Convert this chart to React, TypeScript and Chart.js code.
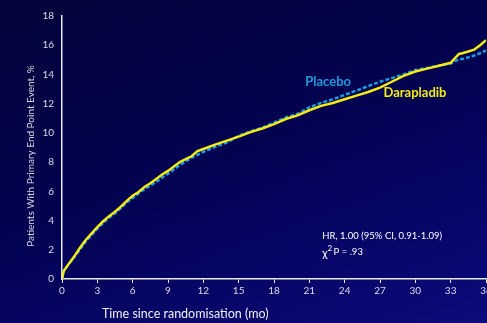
import React, { useEffect, useRef } from "react";
import { Chart, registerables } from "chart.js";

Chart.register(...registerables);

// Months since randomisation (shared x values)
const months = [
  0, 0.15, 0.5, 1, 1.5, 2, 2.5, 3, 3.5, 4, 4.5, 5, 5.5, 6, 6.5, 7, 7.5, 8, 8.5, 9, 9.5, 10, 10.5, 11, 11.5, 12,
  13, 14, 15, 16, 17, 18, 19, 20, 21, 22, 23, 24, 25, 26, 27, 28, 29, 30, 31, 32, 33, 33.7, 34, 35, 35.5, 36,
];

// Cumulative event rate (%)
const darapladib = [
  0, 0.55, 0.95, 1.5, 2.1, 2.65, 3.1, 3.55, 3.95, 4.3, 4.6, 4.95, 5.35, 5.7, 5.95, 6.3, 6.55, 6.85, 7.15, 7.4, 7.7, 8.0, 8.2, 8.4, 8.75, 8.9,
  9.2, 9.47, 9.74, 10.05, 10.3, 10.6, 10.95, 11.2, 11.55, 11.85, 12.05, 12.3, 12.55, 12.8, 13.1, 13.5, 13.9, 14.2, 14.4, 14.6, 14.8, 15.4, 15.45, 15.7, 16.0, 16.35,
];

const placebo = [
  0, 0.6, 0.95, 1.45, 2.0, 2.55, 3.0, 3.45, 3.85, 4.2, 4.5, 4.85, 5.25, 5.55, 5.85, 6.15, 6.4, 6.65, 6.95, 7.2, 7.5, 7.8, 8.05, 8.3, 8.5, 8.7,
  9.05, 9.35, 9.8, 10.1, 10.35, 10.7, 11.05, 11.3, 11.75, 12.05, 12.3, 12.6, 12.9, 13.2, 13.5, 13.75, 14.0, 14.3, 14.45, 14.6, 14.75, 15.05, 15.05, 15.3, 15.45, 15.65,
];

const seriesNames = ["Darapladib", "Placebo"];
const xTicks = { min: 0, max: 36, step: 3 };
const yTicks = { min: 0, max: 18, step: 2 };

const xTitle = "Time since randomisation (mo)";
const yTitle = "Patients With Primary End Point Event, %";
const hrText = "HR, 1.00 (95% CI, 0.91-1.09)";
const pText = "P = .93";

const YELLOW = "#f5ea14";
const BLUE = "#1b9be0";
const AXIS = "#e8e8f0";
const FONT = "Lato, 'Open Sans', sans-serif";

const textPlugin = {
  id: "texts",
  afterDraw(chart: any) {
    const { ctx, scales } = chart;
    const x = scales.x;
    const y = scales.y;
    ctx.save();
    // y axis title
    ctx.fillStyle = "#d8d8e4";
    ctx.font = `10px ${FONT}`;
    ctx.textAlign = "center";
    ctx.textBaseline = "middle";
    ctx.save();
    ctx.translate(31, 156);
    ctx.rotate(-Math.PI / 2);
    ctx.fillText(yTitle, 0, 0);
    ctx.restore();
    // x axis title
    ctx.fillStyle = "#f0f0f6";
    ctx.font = `12.5px ${FONT}`;
    ctx.textAlign = "left";
    ctx.fillText(xTitle, 102, 314);

    // series labels
    ctx.font = `bold 13px ${FONT}`;
    ctx.fillStyle = BLUE;
    ctx.fillText(seriesNames[1], x.getPixelForValue(20.65), y.getPixelForValue(13.5));
    ctx.fillStyle = YELLOW;
    ctx.fillText(seriesNames[0], x.getPixelForValue(27.3), y.getPixelForValue(12.75));

    // stats annotation
    ctx.fillStyle = "#ffffff";
    ctx.font = `9.5px ${FONT}`;
    const ax = x.getPixelForValue(22.1);
    ctx.fillText(hrText, ax, y.getPixelForValue(2.95));
    const py = y.getPixelForValue(1.85);
    ctx.font = `11px ${FONT}`;
    ctx.fillText("χ", ax, py + 1);
    const cw = ctx.measureText("χ").width;
    ctx.font = `8px ${FONT}`;
    ctx.fillText("2", ax + cw, py - 4);
    ctx.font = `9.5px ${FONT}`;
    ctx.fillText(pText, ax + cw + 6, py);
    ctx.restore();
  },
};

export default function App() {
  const ref = useRef<HTMLCanvasElement>(null);

  useEffect(() => {
    const canvas = ref.current;
    if (!canvas) return;
    const chart = new Chart(canvas, {
      type: "line",
      data: {
        datasets: [
          {
            label: seriesNames[0],
            data: months.map((m, i) => ({ x: m, y: darapladib[i] })),
            borderColor: YELLOW,
            borderWidth: 2.5,
            pointRadius: 0,
            tension: 0,
            fill: false,
          },
          {
            label: seriesNames[1],
            data: months.map((m, i) => ({ x: m, y: placebo[i] })),
            borderColor: BLUE,
            borderWidth: 2.5,
            borderDash: [4, 2],
            pointRadius: 0,
            tension: 0,
            fill: false,
          },
        ],
      },
      options: {
        responsive: false,
        animation: false,
        devicePixelRatio: 1,
        layout: { padding: { left: 0, right: 14, top: 16, bottom: 0 } },
        plugins: { legend: { display: false }, tooltip: { enabled: false } },
        scales: {
          x: {
            type: "linear",
            min: xTicks.min,
            max: xTicks.max,
            afterFit: (s: any) => {
              s.height = 44;
            },
            ticks: {
              stepSize: xTicks.step,
              color: "#dcdce8",
              font: { family: FONT, size: 10 },
              padding: 2,
              maxRotation: 0,
            },
            grid: {
              drawOnChartArea: false,
              drawTicks: true,
              tickLength: 4,
              color: AXIS,
              lineWidth: 1,
            },
            border: { color: AXIS, width: 1.5 },
          },
          y: {
            min: yTicks.min,
            max: yTicks.max,
            afterFit: (s: any) => {
              s.width = 62;
            },
            ticks: {
              stepSize: yTicks.step,
              color: "#dcdce8",
              font: { family: FONT, size: 10 },
              padding: 8,
            },
            grid: { drawOnChartArea: false, drawTicks: false },
            border: { color: AXIS, width: 1.5 },
          },
        },
      },
      plugins: [textPlugin],
    } as any);
    return () => chart.destroy();
  }, []);

  return (
    <div
      style={{
        position: "fixed",
        left: 0,
        top: 0,
        width: 487,
        height: 323,
        overflow: "hidden",
        background: "linear-gradient(160deg, #05053a 0%, #020250 45%, #07076c 80%, #0b0b7c 100%)",
      }}
    >
      <canvas ref={ref} width={500} height={323} style={{ display: "block", width: 500, height: 323 }} />
    </div>
  );
}
